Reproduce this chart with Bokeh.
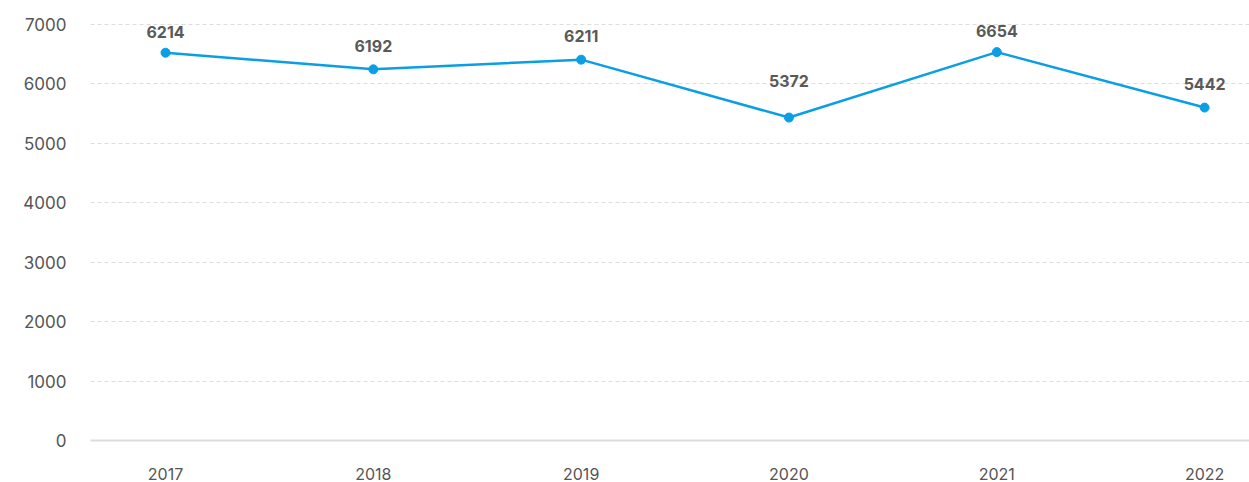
from bokeh.plotting import figure
from bokeh.models import ColumnDataSource, Range1d, FixedTicker
from bokeh.core.properties import value
from bokeh.embed import file_html
from bokeh.resources import INLINE

years = [2017, 2018, 2019, 2020, 2021, 2022]
values = [6525, 6245, 6408, 5434, 6535, 5602]
label_texts = ["6214", "6192", "6211", "5372", "6654", "5442"]
y_ticks = [0, 1000, 2000, 3000, 4000, 5000, 6000, 7000]

FONT = "Inter"
src = ColumnDataSource(dict(x=years, y=values, t=label_texts))
# extra lift for the 2020 label, as in the reference
src.data["dy"] = [-15, -17, -18, -31, -15, -18]

p = figure(width=1249, height=482, output_backend="svg", toolbar_location=None,
           x_range=Range1d(2016.639, 2022.216), y_range=Range1d(0, 7269),
           min_border_left=90, min_border_right=0, min_border_top=8, min_border_bottom=30)
p.outline_line_color = None
p.background_fill_color = "white"

p.line("x", "y", source=src, line_color="#0a9fe4", line_width=2.5)
p.scatter("x", "y", source=src, size=9, fill_color="#0a9fe4", line_color="#0a9fe4")
p.text("x", "y", text="t", source=src, text_align="center", text_baseline="bottom",
       y_offset="dy", text_font=value(FONT), text_font_size="16px",
       text_font_style="bold", text_color="#595959")

p.xaxis.ticker = FixedTicker(ticks=years)
p.yaxis.ticker = FixedTicker(ticks=y_ticks)
p.xgrid.grid_line_color = None
p.ygrid.grid_line_color = "#dddddd"
p.ygrid.grid_line_dash = "4 3"
p.ygrid.grid_line_width = 1

for ax in (p.xaxis, p.yaxis):
    ax.major_tick_line_color = None
    ax.minor_tick_line_color = None
    ax.major_label_text_font = FONT
    ax.major_label_text_font_size = "16px"
    ax.major_label_text_color = "#555555"
p.yaxis.major_label_text_font_size = "17px"
p.yaxis.axis_line_color = None
p.xaxis.axis_line_color = "#dddddd"
p.xaxis.axis_line_width = 2
p.yaxis.major_label_standoff = 18
p.xaxis.major_label_standoff = 21

open("out.html", "w").write(file_html(p, INLINE))
